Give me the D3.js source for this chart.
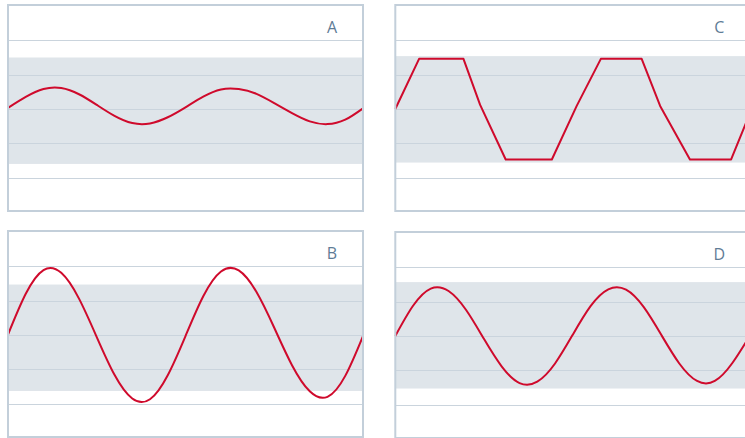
<!DOCTYPE html>
<html>
<head>
<meta charset="utf-8">
<script src="https://cdn.jsdelivr.net/npm/d3@7"></script>
<style>
  html, body { margin: 0; padding: 0; background: #ffffff; }
  svg { display: block; }
</style>
</head>
<body>
<svg id="chart" width="745" height="438"></svg>
<script>
// ---- data ----
const panelLabels = ["A", "C", "B", "D"];
const gridValues = [-2, -1, 0, 1, 2];
const yDomain = [-3, 3];
const xDomain = [0, 100];

// shared sampling positions for the smooth series
const tSmooth = [0,5,10,15,20,25,30,35,40,45,50,55,60,65,70,75,80,85,90,95,100];
const seriesA = [0.03,0.35,0.58,0.61,0.43,0.12,-0.20,-0.41,-0.42,-0.24,0.05,0.36,0.57,0.58,0.44,0.17,-0.12,-0.36,-0.44,-0.31,0.02];
const seriesB = [0.01,1.20,1.89,1.81,1.06,-0.06,-1.16,-1.85,-1.87,-1.17,-0.03,1.13,1.85,1.88,1.25,0.21,-0.88,-1.64,-1.80,-1.19,-0.03];
const seriesD = [0.00,0.88,1.38,1.31,0.75,-0.09,-0.89,-1.37,-1.33,-0.80,0.04,0.87,1.36,1.35,0.84,0.02,-0.80,-1.31,-1.31,-0.78,0.03];

// clipped series C (break points)
const tC = [0, 6.7, 19.2, 23.9, 31.1, 44.1, 51.1, 57.9, 69.4, 74.6, 83.0, 94.6, 100];
const seriesC = [0, 1.46, 1.46, 0.12, -1.47, -1.47, 0.09, 1.46, 1.46, 0.09, -1.47, -1.47, -0.10];

// shaded band limits per panel (A, C, B, D)
const bandLow  = [-1.60, -1.56, -1.63, -1.53];
const bandHigh = [ 1.50,  1.54,  1.47,  1.57];

// ---- layout ----
const W = 355, H = 206;
const panelPos = [
  {x: 8,     y: 5},
  {x: 395.3, y: 5},
  {x: 8,     y: 231},
  {x: 395.3, y: 232}
];
const panelSeries = [
  {t: tSmooth, v: seriesA, curve: d3.curveNatural},
  {t: tC,      v: seriesC, curve: d3.curveLinear},
  {t: tSmooth, v: seriesB, curve: d3.curveNatural},
  {t: tSmooth, v: seriesD, curve: d3.curveNatural}
];

const colors = {
  border: "#c3cfda",
  band: "#dfe5ea",
  grid: "#cad4dd",
  line: "#cf0a2c",
  label: "#5f7c96"
};

const svg = d3.select("#chart");

panelLabels.forEach((lab, i) => {
  const p = panelPos[i];
  const g = svg.append("g").attr("transform", `translate(${p.x},${p.y})`);
  const x = d3.scaleLinear().domain(xDomain).range([0, W]);
  const y = d3.scaleLinear().domain(yDomain).range([H + 1, 1]);

  // panel background
  g.append("rect")
    .attr("x", 0).attr("y", 0).attr("width", W).attr("height", H)
    .attr("fill", "#ffffff");

  // band
  g.append("rect")
    .attr("x", 0)
    .attr("width", W)
    .attr("y", y(bandHigh[i]))
    .attr("height", y(bandLow[i]) - y(bandHigh[i]))
    .attr("fill", colors.band);

  // grid lines via axis
  const axis = d3.axisLeft(y).tickValues(gridValues).tickSize(-W).tickFormat("");
  const ag = g.append("g").call(axis);
  ag.select(".domain").remove();
  ag.selectAll(".tick line")
    .attr("stroke", colors.grid)
    .attr("stroke-width", 1)
    .attr("shape-rendering", "crispEdges");

  // series line
  const s = panelSeries[i];
  const data = s.t.map((t, k) => [t, s.v[k]]);
  const line = d3.line()
    .x(d => x(d[0]))
    .y(d => y(d[1]))
    .curve(s.curve);
  g.append("path")
    .datum(data)
    .attr("d", line)
    .attr("fill", "none")
    .attr("stroke", colors.line)
    .attr("stroke-width", 2)
    .attr("stroke-linejoin", "round");

  // border
  g.append("rect")
    .attr("x", 0).attr("y", 0).attr("width", W).attr("height", H)
    .attr("fill", "none")
    .attr("stroke", colors.border)
    .attr("stroke-width", 2);

  // label
  g.append("text")
    .attr("x", 324)
    .attr("y", 28)
    .attr("text-anchor", "middle")
    .attr("font-family", "'Open Sans', 'Noto Sans', sans-serif")
    .attr("font-size", 16)
    .attr("fill", colors.label)
    .text(lab);
});
</script>
</body>
</html>
